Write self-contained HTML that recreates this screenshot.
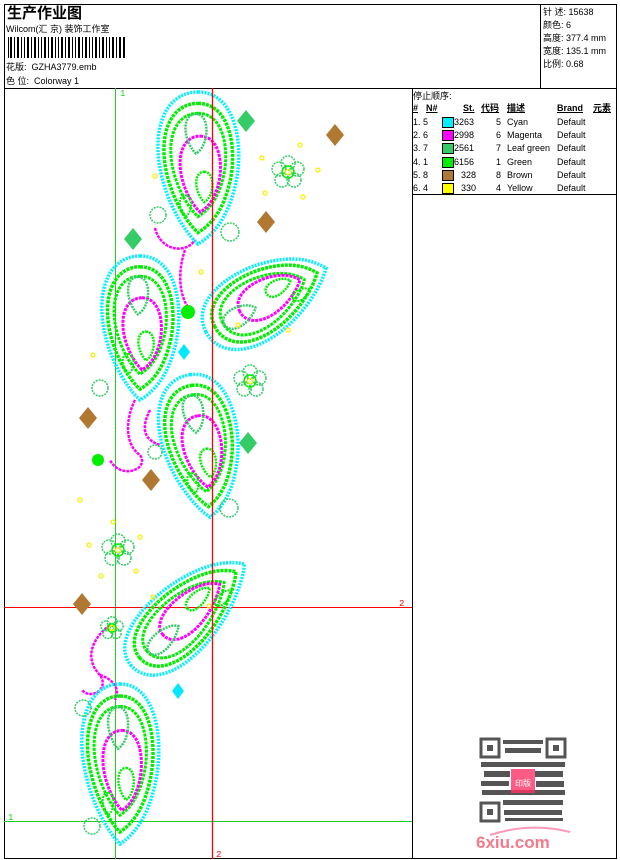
<!DOCTYPE html>
<html><head><meta charset="utf-8"><style>
*{margin:0;padding:0}
body{width:620px;height:860px;background:#fff;position:relative;overflow:hidden;font-family:"Liberation Sans","Noto Sans CJK SC",sans-serif;color:#000}
.t{position:absolute;font-size:9px;white-space:nowrap;line-height:10px}
.r{position:relative;height:13.2px;white-space:nowrap}
.r span{position:absolute;white-space:nowrap}
</style></head><body>
<svg id="sv" width="620" height="860" style="position:absolute;left:0;top:0" xmlns="http://www.w3.org/2000/svg">
<rect x="4.5" y="4.5" width="612" height="854" fill="none" stroke="#000" stroke-width="1"/>
<line x1="4" y1="88.5" x2="617" y2="88.5" stroke="#000"/>
<line x1="540.5" y1="4" x2="540.5" y2="88" stroke="#000"/>
<line x1="412.5" y1="88" x2="412.5" y2="859" stroke="#000"/>
<line x1="412" y1="194.5" x2="617" y2="194.5" stroke="#000"/>
<g fill="#000">
<rect x="8" y="37" width="1" height="21"/><rect x="10" y="37" width="2" height="21"/><rect x="14" y="37" width="1" height="21"/><rect x="17" y="37" width="2" height="21"/><rect x="21" y="37" width="1" height="21"/><rect x="24" y="37" width="1" height="21"/><rect x="27" y="37" width="2" height="21"/><rect x="31" y="37" width="1" height="21"/><rect x="34" y="37" width="2" height="21"/><rect x="38" y="37" width="1" height="21"/><rect x="41" y="37" width="1" height="21"/><rect x="44" y="37" width="2" height="21"/><rect x="48" y="37" width="1" height="21"/><rect x="51" y="37" width="2" height="21"/><rect x="55" y="37" width="1" height="21"/><rect x="58" y="37" width="1" height="21"/><rect x="61" y="37" width="2" height="21"/><rect x="65" y="37" width="1" height="21"/><rect x="68" y="37" width="2" height="21"/><rect x="72" y="37" width="1" height="21"/><rect x="75" y="37" width="1" height="21"/><rect x="78" y="37" width="2" height="21"/><rect x="82" y="37" width="1" height="21"/><rect x="85" y="37" width="2" height="21"/><rect x="89" y="37" width="1" height="21"/><rect x="92" y="37" width="1" height="21"/><rect x="95" y="37" width="2" height="21"/><rect x="99" y="37" width="1" height="21"/><rect x="102" y="37" width="2" height="21"/><rect x="106" y="37" width="1" height="21"/><rect x="109" y="37" width="1" height="21"/><rect x="112" y="37" width="2" height="21"/><rect x="116" y="37" width="1" height="21"/><rect x="119" y="37" width="2" height="21"/><rect x="123" y="37" width="2" height="21"/>
</g>
<line x1="115.5" y1="88" x2="115.5" y2="859" stroke="#22cc22"/>
<line x1="4" y1="821.5" x2="412" y2="821.5" stroke="#22cc22"/>
<line x1="4" y1="607.5" x2="412" y2="607.5" stroke="#ff0000"/>
<text x="120" y="96" font-size="9" fill="#22cc22" font-family="Liberation Mono">1</text>
<text x="8" y="820" font-size="9" fill="#22cc22" font-family="Liberation Mono">1</text>
<text x="399" y="606" font-size="9" fill="#ff0000" font-family="Liberation Mono">2</text>
<text x="216" y="857" font-size="9" fill="#ff0000" font-family="Liberation Mono">2</text>
<g fill="none" stroke="#ff00ff" stroke-width="2.5" stroke-dasharray="3 1">
<path d="M155,228 C160,250 185,255 195,240"/>
<path d="M185,250 C178,270 178,295 190,310"/>
<path d="M135,400 C125,420 125,445 140,455 C150,470 120,480 110,460"/>
<path d="M150,410 C140,430 145,440 160,445"/>
<path d="M110,625 C90,640 85,660 100,675 C110,690 90,700 82,690"/>
<path d="M100,675 C115,680 120,690 115,700"/>
</g>
<g id="pays"></g>
<line x1="212.5" y1="88" x2="212.5" y2="859" stroke="#ff0000" stroke-width="1.3"/>
<g fill="none" stroke="#33cc66" stroke-width="1.5" stroke-dasharray="2 1">
<circle cx="158" cy="215" r="8"/><circle cx="229" cy="508" r="9"/><circle cx="155" cy="452" r="7"/><circle cx="100" cy="388" r="8"/><circle cx="83" cy="708" r="8"/><circle cx="92" cy="826" r="8"/><circle cx="230" cy="232" r="9"/>
</g>
<g fill="#00ee00"><circle cx="188" cy="312" r="7"/><circle cx="98" cy="460" r="6"/></g>
<g fill="#b07830">
<path d="M335,124 L344,135 L335,146 L326,135Z"/><path d="M266,211 L275,222 L266,233 L257,222Z"/><path d="M88,407 L97,418 L88,429 L79,418Z"/><path d="M151,469 L160,480 L151,491 L142,480Z"/><path d="M82,593 L91,604 L82,615 L73,604Z"/>
</g>
<g fill="#33cc66">
<path d="M246,110 L255,121 L246,132 L237,121Z"/><path d="M133,228 L142,239 L133,250 L124,239Z"/><path d="M248,432 L257,443 L248,454 L239,443Z"/>
</g>
<g fill="#00e8ff">
<path d="M184,344 L190,352 L184,360 L178,352Z"/><path d="M178,683 L184,691 L178,699 L172,691Z"/>
</g>
<g fill="none" stroke="#ffee00" stroke-width="1.3">
<circle cx="155" cy="176" r="2"/><circle cx="262" cy="158" r="2"/><circle cx="300" cy="145" r="2"/><circle cx="318" cy="170" r="2"/><circle cx="265" cy="193" r="2"/><circle cx="303" cy="197" r="2"/><circle cx="201" cy="272" r="2"/><circle cx="288" cy="330" r="2"/><circle cx="238" cy="325" r="2"/><circle cx="93" cy="355" r="2"/><circle cx="80" cy="500" r="2"/><circle cx="113" cy="522" r="2"/><circle cx="140" cy="537" r="2"/><circle cx="89" cy="545" r="2"/><circle cx="101" cy="576" r="2"/><circle cx="136" cy="571" r="2"/><circle cx="153" cy="597" r="2"/><circle cx="209" cy="606" r="2"/>
</g>
<g id="fls"></g>
<g fill="#555">
<rect x="481" y="739" width="18" height="18" fill="none" stroke="#555" stroke-width="3"/>
<rect x="547" y="739" width="18" height="18" fill="none" stroke="#555" stroke-width="3"/>
<rect x="481" y="803" width="18" height="18" fill="none" stroke="#555" stroke-width="3"/>
<rect x="487" y="745" width="6" height="6"/><rect x="553" y="745" width="6" height="6"/><rect x="487" y="809" width="6" height="6"/>
<rect x="503" y="740" width="40" height="4"/><rect x="505" y="748" width="36" height="5"/><rect x="481" y="762" width="84" height="5"/><rect x="484" y="771" width="26" height="6"/><rect x="535" y="771" width="28" height="6"/><rect x="481" y="781" width="28" height="5"/><rect x="536" y="781" width="28" height="6"/><rect x="482" y="790" width="83" height="5"/><rect x="503" y="800" width="60" height="5"/><rect x="504" y="810" width="58" height="5"/><rect x="505" y="818" width="58" height="3"/>
</g>
<rect x="511" y="769" width="24" height="24" fill="#f36" opacity="0.8"/>
<text x="523" y="786" font-size="8" fill="#fff" text-anchor="middle" font-family="Noto Sans CJK SC">印版</text>
<path d="M490,835 Q530,822 570,832" stroke="#f58" stroke-width="2" fill="none" opacity="0.6"/>
<text x="476" y="848" font-size="17" font-weight="bold" fill="#f47a8a" font-family="Liberation Sans">6xiu.com</text>
</svg>
<script>
(function(){
var NS="http://www.w3.org/2000/svg";
var P=[[0,-1],[0.9,-1],[1.1,-0.3],[0.9,0.2],[0.7,0.7],[0.3,0.9],[0,1],[-0.4,0.8],[-0.9,0.3],[-0.95,-0.2],[-1,-0.7],[-0.6,-1],[0,-1]];
function path(cx,cy,rot,sx,sy,k,ox,oy){
 var a=rot*Math.PI/180,c=Math.cos(a),s=Math.sin(a);
 var q=P.map(function(p){var x=(p[0]*k+ox)*sx,y=(p[1]*k+oy)*sy;return [(cx+x*c-y*s).toFixed(1),(cy+x*s+y*c).toFixed(1)];});
 var d="M"+q[0].join(",");
 for(var i=1;i<q.length;i+=3)d+=" C"+q[i].join(",")+" "+q[i+1].join(",")+" "+q[i+2].join(",");
 return d+"Z";
}
var layers=[[1,0,0,"#00f0ff",3.5,"2 1.2"],[0.85,0,0,"#00ee00",3.5,"3 1"],[0.68,0,-0.04,"#00ee00",3,"3 1"],[0.5,0.05,0.08,"#ff00ff",3,"3 1"],[0.26,-0.05,-0.45,"#33cc66",2.5,"2 1"],[0.2,0.15,0.25,"#00ee00",2.5,"2 1"],[0.14,-0.3,0.5,"#00ee00",2,"2 1"]];
var ps=[[198,168,0,42,76],[140,328,0,40,72],[266,300,-118,38,68],[200,446,-8,40,72],[188,615,-132,36,76],[120,764,0,40,80]];
var g=document.getElementById("pays");
ps.forEach(function(p){layers.forEach(function(l){
 var e=document.createElementNS(NS,"path");
 e.setAttribute("d",path(p[0],p[1],p[2],p[3],p[4],l[0],l[1],l[2]));
 e.setAttribute("fill","none");e.setAttribute("stroke",l[3]);e.setAttribute("stroke-width",l[4]);e.setAttribute("stroke-dasharray",l[5]);
 g.appendChild(e);});});
var fg=document.getElementById("fls");
[[288,172,1],[250,381,1],[118,550,1],[112,628,0.7]].forEach(function(f){
 var off=[[0,-9],[9,-3],[6,8],[-6,8],[-9,-3]];
 off.forEach(function(o){var e=document.createElementNS(NS,"circle");e.setAttribute("cx",f[0]+o[0]*f[2]);e.setAttribute("cy",f[1]+o[1]*f[2]);e.setAttribute("r",7*f[2]);e.setAttribute("fill","none");e.setAttribute("stroke","#33cc66");e.setAttribute("stroke-width","1.5");e.setAttribute("stroke-dasharray","2 1");fg.appendChild(e);});
 var e=document.createElementNS(NS,"circle");e.setAttribute("cx",f[0]);e.setAttribute("cy",f[1]);e.setAttribute("r",6*f[2]);e.setAttribute("fill","none");e.setAttribute("stroke","#00ee00");e.setAttribute("stroke-width","1.5");fg.appendChild(e);
 var y=document.createElementNS(NS,"circle");y.setAttribute("cx",f[0]);y.setAttribute("cy",f[1]);y.setAttribute("r",2.5);y.setAttribute("fill","none");y.setAttribute("stroke","#ffee00");y.setAttribute("stroke-width","1.3");fg.appendChild(y);
});
})();
</script>
<div class="t" style="left:7px;top:4px;font-size:15px;line-height:17px;font-weight:bold;font-family:'Noto Sans CJK SC',sans-serif">生产作业图</div>
<div class="t" style="left:6px;top:24px">Wilcom(汇 京) 装饰工作室</div>
<div class="t" style="left:6px;top:62px">花版:&nbsp; GZHA3779.emb</div>
<div class="t" style="left:6px;top:76px">色 位:&nbsp; Colorway 1</div>
<div class="t" style="left:543px;top:7px">针 述: 15638</div>
<div class="t" style="left:543px;top:20px">颜色: 6</div>
<div class="t" style="left:543px;top:33px">高度: 377.4 mm</div>
<div class="t" style="left:543px;top:46px">宽度: 135.1 mm</div>
<div class="t" style="left:543px;top:59px">比例: 0.68</div>
<div class="t" style="left:413px;top:91px">停止顺序:</div>
<div class="t" style="left:413px;top:103px;font-weight:bold;text-decoration:underline">#</div>
<div class="t" style="left:426px;top:103px;font-weight:bold;text-decoration:underline">N#</div>
<div class="t" style="left:463px;top:103px;font-weight:bold;text-decoration:underline">St.</div>
<div class="t" style="left:481px;top:103px;font-weight:bold;text-decoration:underline">代码</div>
<div class="t" style="left:507px;top:103px;font-weight:bold;text-decoration:underline">描述</div>
<div class="t" style="left:557px;top:103px;font-weight:bold;text-decoration:underline">Brand</div>
<div class="t" style="left:593px;top:103px;font-weight:bold;text-decoration:underline">元素</div>
<div style="position:absolute;left:413px;top:116px;width:200px;font-size:9px;line-height:13.2px">
<div class="r"><span style="left:0">1. 5</span><span style="left:29px;top:1px;width:10px;height:9px;background:#00f0ff;border:1px solid #000"></span><span style="left:41px">3263</span><span style="left:83px">5</span><span style="left:94px">Cyan</span><span style="left:144px">Default</span></div>
<div class="r"><span style="left:0">2. 6</span><span style="left:29px;top:1px;width:10px;height:9px;background:#ff00ff;border:1px solid #000"></span><span style="left:41px">2998</span><span style="left:83px">6</span><span style="left:94px">Magenta</span><span style="left:144px">Default</span></div>
<div class="r"><span style="left:0">3. 7</span><span style="left:29px;top:1px;width:10px;height:9px;background:#33cc66;border:1px solid #000"></span><span style="left:41px">2561</span><span style="left:83px">7</span><span style="left:94px">Leaf green</span><span style="left:144px">Default</span></div>
<div class="r"><span style="left:0">4. 1</span><span style="left:29px;top:1px;width:10px;height:9px;background:#00ee00;border:1px solid #000"></span><span style="left:41px">6156</span><span style="left:83px">1</span><span style="left:94px">Green</span><span style="left:144px">Default</span></div>
<div class="r"><span style="left:0">5. 8</span><span style="left:29px;top:1px;width:10px;height:9px;background:#b07830;border:1px solid #000"></span><span style="left:48px">328</span><span style="left:83px">8</span><span style="left:94px">Brown</span><span style="left:144px">Default</span></div>
<div class="r"><span style="left:0">6. 4</span><span style="left:29px;top:1px;width:10px;height:9px;background:#ffff00;border:1px solid #000"></span><span style="left:48px">330</span><span style="left:83px">4</span><span style="left:94px">Yellow</span><span style="left:144px">Default</span></div>
</div>
</body></html>
